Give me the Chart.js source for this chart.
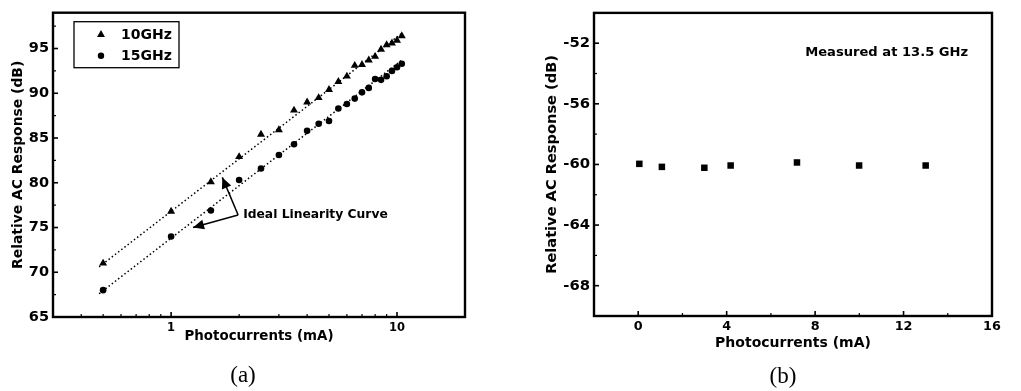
<!DOCTYPE html>
<html><head><meta charset="utf-8">
<script src="https://cdn.jsdelivr.net/npm/chart.js@4.4.0/dist/chart.umd.min.js"></script>
<style>
html,body{margin:0;padding:0;background:#fff;overflow:hidden}
#wrap{position:relative;width:1021px;height:391px;background:#fff}
.cap{position:absolute;font-family:'Liberation Serif','Times New Roman',serif;font-size:23px;color:#000;transform:translate(-50%,-50%);white-space:nowrap}
</style></head><body>
<div id="wrap">
<canvas id="ca" width="480" height="391" style="position:absolute;left:0;top:0"></canvas>
<canvas id="cb" width="541" height="391" style="position:absolute;left:480px;top:0"></canvas>
<div class="cap" style="left:243px;top:375px">(a)</div>
<div class="cap" style="left:783px;top:376px">(b)</div>
</div>
<script>
// ---------- Data (a) ----------
const currentA   = [0.5, 1, 1.5, 2, 2.5, 3, 3.5, 4, 4.5, 5, 5.5, 6, 6.5, 7, 7.5, 8, 8.5, 9, 9.5, 10, 10.5];
const resp10GHz  = [71, 76.8, 80.1, 82.9, 85.4, 85.9, 88.1, 89.0, 89.5, 90.4, 91.3, 91.9, 93.1, 93.2, 93.7, 94.1, 94.9, 95.4, 95.6, 95.9, 96.4];
const resp15GHz  = [68, 74.0, 76.9, 80.3, 81.6, 83.1, 84.3, 85.8, 86.6, 86.9, 88.3, 88.8, 89.4, 90.1, 90.6, 91.6, 91.5, 91.9, 92.5, 92.9, 93.3];
const fitX       = [0.48, 10.5];
const fit10GHz   = [70.6, 96.7];
const fit15GHz   = [67.6, 93.7];
const yTicksA    = [65, 70, 75, 80, 85, 90, 95];
const xTicksA    = [1, 10];
const seriesNamesA = ['10GHz', '15GHz'];
const arrowVertex = {x: 1.98, y: 76.4};
const arrowTips   = [{x: 1.685, y: 80.6}, {x: 1.25, y: 75.0}];
const annotA      = 'Ideal Linearity Curve';
// ---------- Data (b) ----------
const currentB   = [0.05, 1.07, 2.99, 4.18, 7.18, 9.99, 13.0];
const respB      = [-59.96, -60.16, -60.22, -60.07, -59.87, -60.07, -60.07];
const xTicksB    = [0, 4, 8, 12, 16];
const yTicksB    = [-68, -64, -60, -56, -52];
const annotB     = 'Measured at 13.5 GHz';
const annotBPos  = {x: 7.55, y: -52.65};

const FONT = "'DejaVu Sans', sans-serif";
const bold = (s) => ({family: FONT, size: s, weight: 'bold'});

function line(ctx, x1, y1, x2, y2) { ctx.beginPath(); ctx.moveTo(x1, y1); ctx.lineTo(x2, y2); ctx.stroke(); }

function framePlugin(xMajor, xMinor, yMajor, yMinor) {
  return {
    id: 'frame',
    afterDatasetsDraw(chart) {
      const {ctx, chartArea: a} = chart;
      const xs = chart.scales.x, ys = chart.scales.y;
      ctx.save();
      ctx.strokeStyle = '#000';
      ctx.lineWidth = 1.6;
      xMajor.forEach(v => { const p = xs.getPixelForValue(v); line(ctx, p, a.bottom, p, a.bottom - 5); });
      yMajor.forEach(v => { const p = ys.getPixelForValue(v); line(ctx, a.left, p, a.left + 5, p); });
      ctx.lineWidth = 1.2;
      xMinor.forEach(v => { const p = xs.getPixelForValue(v); if (p > a.left + 1 && p < a.right - 1) line(ctx, p, a.bottom, p, a.bottom - 3); });
      yMinor.forEach(v => { const p = ys.getPixelForValue(v); if (p > a.top + 1 && p < a.bottom - 1) line(ctx, a.left, p, a.left + 3, p); });
      ctx.lineWidth = 2.4;
      ctx.strokeRect(a.left, a.top, a.right - a.left, a.bottom - a.top);
      ctx.restore();
    }
  };
}

function arrowHead(ctx, fx, fy, tx, ty, len, half) {
  const ang = Math.atan2(ty - fy, tx - fx);
  ctx.beginPath();
  ctx.moveTo(tx, ty);
  ctx.lineTo(tx - len * Math.cos(ang) + half * Math.sin(ang), ty - len * Math.sin(ang) - half * Math.cos(ang));
  ctx.lineTo(tx - len * Math.cos(ang) - half * Math.sin(ang), ty - len * Math.sin(ang) + half * Math.cos(ang));
  ctx.closePath();
  ctx.fill();
}

const annotPluginA = {
  id: 'annotA',
  afterDatasetsDraw(chart) {
    const {ctx, chartArea: a} = chart;
    const xs = chart.scales.x, ys = chart.scales.y;
    ctx.save();
    ctx.strokeStyle = '#000'; ctx.fillStyle = '#000'; ctx.lineWidth = 1.5;
    const vx = xs.getPixelForValue(arrowVertex.x), vy = ys.getPixelForValue(arrowVertex.y);
    arrowTips.forEach(t => {
      const tx = xs.getPixelForValue(t.x), ty = ys.getPixelForValue(t.y);
      line(ctx, vx, vy, tx, ty);
      arrowHead(ctx, vx, vy, tx, ty, 11, 5);
    });
    ctx.font = "bold 12.3px " + FONT;
    ctx.textBaseline = 'middle'; ctx.textAlign = 'left';
    ctx.fillText(annotA, vx + 5, vy);
    // legend
    const lx = a.left + 21, ly = a.top + 9, lw = 105, lh = 46;
    ctx.lineWidth = 1.3;
    ctx.strokeRect(lx, ly, lw, lh);
    ctx.font = "bold 14px " + FONT;
    const rows = [ly + 13, ly + 34];
    const r = 4.6, cx = lx + 27;
    ctx.beginPath();
    ctx.moveTo(cx, rows[0] - r);
    ctx.lineTo(cx + r * Math.sin(2 * Math.PI / 3), rows[0] - r * Math.cos(2 * Math.PI / 3));
    ctx.lineTo(cx + r * Math.sin(4 * Math.PI / 3), rows[0] - r * Math.cos(4 * Math.PI / 3));
    ctx.closePath(); ctx.fill();
    ctx.beginPath(); ctx.arc(cx, rows[1], 3.2, 0, Math.PI * 2); ctx.fill();
    ctx.fillText(seriesNamesA[0], lx + 47, rows[0] + 1);
    ctx.fillText(seriesNamesA[1], lx + 47, rows[1] + 1);
    ctx.restore();
  }
};

const annotPluginB = {
  id: 'annotB',
  afterDatasetsDraw(chart) {
    const {ctx} = chart;
    const xs = chart.scales.x, ys = chart.scales.y;
    ctx.save();
    ctx.fillStyle = '#000';
    ctx.font = "bold 13.1px " + FONT;
    ctx.textBaseline = 'middle'; ctx.textAlign = 'left';
    ctx.fillText(annotB, xs.getPixelForValue(annotBPos.x), ys.getPixelForValue(annotBPos.y));
    ctx.restore();
  }
};

// minor tick positions (axis decoration)
const logMinor = [];
[0.1, 1, 10].forEach(d => { for (let k = 2; k <= 9; k++) logMinor.push(d * k); });
const yMinorA = yTicksA.map(v => v + 2.5);
const xMinorB = xTicksB.map(v => v - 2);
const yMinorB = yTicksB.map(v => v - 2).concat([yTicksB[yTicksB.length - 1] + 2]);

const pts = (xs, ys) => xs.map((x, i) => ({x, y: ys[i]}));

new Chart(document.getElementById('ca'), {
  type: 'scatter',
  data: {datasets: [
    {label: seriesNamesA[0], data: pts(currentA, resp10GHz), pointStyle: 'triangle', pointRadius: 4.6, backgroundColor: '#000', borderColor: '#000', borderWidth: 0, order: 0},
    {label: seriesNamesA[1], data: pts(currentA, resp15GHz), pointStyle: 'circle', pointRadius: 3.3, backgroundColor: '#000', borderColor: '#000', borderWidth: 0, order: 0},
    {label: 'fit10', data: pts(fitX, fit10GHz), showLine: true, borderColor: '#000', borderWidth: 1.5, borderDash: [1.5, 2.5], pointRadius: 0, order: 1},
    {label: 'fit15', data: pts(fitX, fit15GHz), showLine: true, borderColor: '#000', borderWidth: 1.5, borderDash: [1.5, 2.5], pointRadius: 0, order: 1}
  ]},
  options: {
    responsive: false, animation: false, devicePixelRatio: 1,
    layout: {padding: {left: 0, right: 15, top: 8, bottom: 0}},
    plugins: {legend: {display: false}, tooltip: {enabled: false}},
    scales: {
      x: {
        type: 'logarithmic', min: 0.3, max: 20,
        afterBuildTicks: s => { s.ticks = xTicksA.map(v => ({value: v})); },
        afterFit: s => { s.height = 74; },
        grid: {display: false, drawTicks: false}, border: {display: false},
        ticks: {color: '#000', font: bold(11.5), padding: 4, maxRotation: 0, autoSkip: false, callback: v => String(v)},
        title: {display: true, text: 'Photocurrents (mA)', color: '#000', font: bold(13.4), padding: {top: 0, bottom: 46}}
      },
      y: {
        type: 'linear', min: 65, max: 99,
        afterBuildTicks: s => { s.ticks = yTicksA.map(v => ({value: v})); },
        afterFit: s => { s.width = 53; },
        grid: {display: false, drawTicks: false}, border: {display: false},
        ticks: {color: '#000', font: bold(14.5), padding: 4},
        title: {display: true, text: 'Relative AC Response (dB)', color: '#000', font: bold(13.9), padding: {top: 9.7, bottom: 0}}
      }
    }
  },
  plugins: [framePlugin(xTicksA, logMinor, yTicksA, yMinorA), annotPluginA]
});

new Chart(document.getElementById('cb'), {
  type: 'scatter',
  data: {datasets: [
    {label: '13.5GHz', data: pts(currentB, respB), pointStyle: 'rect', pointRadius: 4.6, backgroundColor: '#000', borderColor: '#000', borderWidth: 0}
  ]},
  options: {
    responsive: false, animation: false, devicePixelRatio: 1,
    layout: {padding: {left: 0, right: 29, top: 9, bottom: 0}},
    plugins: {legend: {display: false}, tooltip: {enabled: false}},
    scales: {
      x: {
        type: 'linear', min: -2, max: 16,
        afterBuildTicks: s => { s.ticks = xTicksB.map(v => ({value: v})); },
        afterFit: s => { s.height = 75; },
        grid: {display: false, drawTicks: false}, border: {display: false},
        ticks: {color: '#000', font: bold(12.8), padding: 3, maxRotation: 0, autoSkip: false},
        title: {display: true, text: 'Photocurrents (mA)', color: '#000', font: bold(14), padding: {top: 0, bottom: 39.6}}
      },
      y: {
        type: 'linear', min: -70, max: -50,
        afterBuildTicks: s => { s.ticks = yTicksB.map(v => ({value: v})); },
        afterFit: s => { s.width = 114; },
        grid: {display: false, drawTicks: false}, border: {display: false},
        ticks: {color: '#000', font: bold(14.8), padding: 4},
        title: {display: true, text: 'Relative AC Response (dB)', color: '#000', font: bold(14.6), padding: {top: 63, bottom: 0}}
      }
    }
  },
  plugins: [framePlugin(xTicksB, xMinorB, yTicksB, yMinorB), annotPluginB]
});
</script>
</body></html>
